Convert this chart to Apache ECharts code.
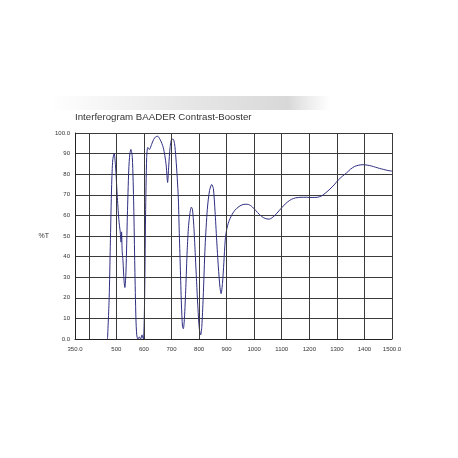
<!DOCTYPE html>
<html>
<head>
<meta charset="utf-8">
<script src="https://cdn.jsdelivr.net/npm/echarts@6/dist/echarts.min.js"></script>
<style>html,body{margin:0;padding:0;background:#fff;}#c{width:458px;height:458px;}</style>
</head>
<body>
<div id="c"></div>
<script>
const titleText = 'Interferogram BAADER Contrast-Booster';
const yAxisName = '%T';
const gridX = [400,500,600,700,800,900,1000,1100,1200,1300,1400,1500];
const wavelength = [468,474,478,483,487,492,497,503,509,514,517,519,521,524,528,531,535,540,545,549,553,558,563,567,571,574,578,583,588,593,598,602,606,610,614,620,628,635,643,650,658,665,670,676,681,686,690,695,701,706,711,716,721,725,728,732,736,740,743,747,752,757,762,767,772,776,781,786,791,796,801,806,810,815,822,830,838,846,852,858,864,870,876,880,885,890,895,900,908,918,930,945,960,975,990,1005,1020,1035,1050,1060,1075,1090,1105,1120,1135,1150,1170,1190,1210,1230,1245,1260,1275,1290,1305,1320,1335,1350,1365,1380,1395,1410,1425,1440,1455,1470,1485,1500];
const transmission = [0,20,45,75,87,90,84,70,58,52,47,52,43,38,28,25,33,60,82,90,92,88,65,35,10,2,0,1,0,2,0,15,60,88,93,92,94.5,96.8,98.2,98.4,97,95,93,89,84,76,84,93,97,97,95,88,78,68,53,35,17,6,5,10,25,43,55,61,64,63,55,42,28,15,5,2,6,20,45,63,72,75,73,62,48,35,25,22,27,37,48,53,57,60,62.5,64.3,65.3,65.4,64.5,62.5,60.3,58.8,58.2,58.4,60,62.2,64.5,66.4,67.8,68.5,68.8,68.8,68.7,68.8,69.5,71,72.8,74.8,77.2,79,80.6,82.5,83.8,84.4,84.6,84.4,84,83.4,82.8,82.3,81.8,81.5];

const chart = echarts.init(document.getElementById('c'), null, {renderer:'canvas'});
const data = wavelength.map((w,i)=>[w, transmission[i]]);
chart.setOption({
  backgroundColor:'#fff',
  animation:false,
  graphic:[
    {type:'rect', z:-1, shape:{x:50,y:96,width:280,height:14},
     style:{fill:{type:'linear',x:0,y:0,x2:1,y2:0,colorStops:[
       {offset:0,color:'rgba(200,200,200,0)'},{offset:0.5,color:'rgba(200,200,200,0.45)'},
       {offset:0.85,color:'rgba(190,190,190,0.6)'},{offset:1,color:'rgba(200,200,200,0)'}]}}},
    {type:'text', left:75, top:112, style:{text:titleText, fill:'#333', font:'9.7px "Liberation Sans", Arial, sans-serif'}}
  ],
  grid:{left:75, right:66, top:133, bottom:119, containLabel:false},
  xAxis:{type:'value', min:350, max:1500, interval:50,
    axisLine:{show:true, lineStyle:{color:'#222', width:1}},
    axisTick:{show:false}, splitLine:{show:false},
    axisLabel:{fontSize:6, color:'#333', margin:7,
      formatter:function(v){ if(v===350) return '350.0'; if(v===1500) return '1500.0'; if(v%100===0 && v!==400) return String(v); return ''; }}
  },
  yAxis:{type:'value', min:0, max:100, interval:10,
    name:yAxisName, nameLocation:'middle', nameGap:18, nameRotate:0,
    nameTextStyle:{fontSize:7, color:'#333'},
    axisLine:{show:true, lineStyle:{color:'#222', width:1}},
    axisTick:{show:false},
    splitLine:{show:true, lineStyle:{color:'#3a3a3a', width:1}},
    axisLabel:{fontSize:6, color:'#333', margin:5,
      formatter:function(v){ if(v===0) return '0.0'; if(v===100) return '100.0'; return String(v); }}
  },
  series:[
    {type:'line', data:[], z:1, silent:true,
     markLine:{silent:true, symbol:'none', animation:false, label:{show:false},
       lineStyle:{color:'#3a3a3a', width:1, type:'solid'},
       data:gridX.map(v=>({xAxis:v}))}},
    {type:'line', data:data, z:3, showSymbol:false, smooth:0.25,
     lineStyle:{color:'#2e2e82', width:1}}
  ]
});
</script>
</body>
</html>
